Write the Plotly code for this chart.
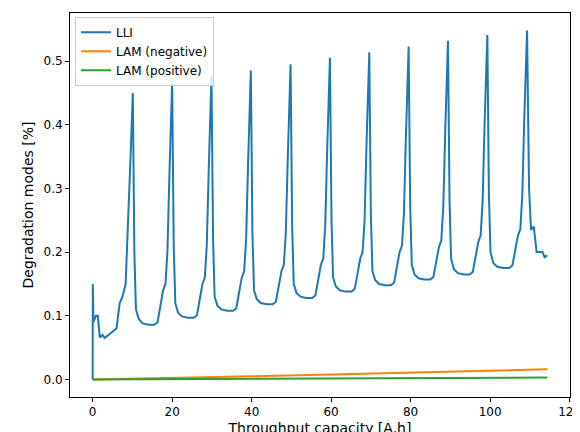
"""Degradation modes vs throughput capacity"""
import plotly.graph_objects as go

# start of LLI curve (first partial cycle)
start_x = [0, 0.05, 0.2, 0.8, 1.3, 1.8, 2.5, 3.0, 4.0, 5.0, 6.0, 6.8, 7.5, 8.3, 9.0, 9.6]
start_y = [0, 0.15, 0.09, 0.10, 0.10, 0.066, 0.07, 0.065, 0.07, 0.075, 0.08, 0.12, 0.13, 0.15, 0.25, 0.36]

# peak positions and peak values
peak_x = [10.1, 20.0, 29.9, 39.8, 49.8, 59.7, 69.6, 79.5, 89.4, 99.3, 109.3]
peak_y = [0.450, 0.466, 0.476, 0.485, 0.495, 0.505, 0.514, 0.523, 0.532, 0.541, 0.548]

# shape between peaks: offset after peak (fraction of gap) and values per cycle
offsets = [0.04, 0.08, 0.15, 0.25, 0.40, 0.55, 0.63, 0.70, 0.77, 0.83, 0.88, 0.93, 0.97]
cycles_y = [
    [0.20, 0.11, 0.095, 0.088, 0.086, 0.086, 0.090, 0.115, 0.140, 0.150, 0.20, 0.32],
    [0.21, 0.12, 0.105, 0.099, 0.097, 0.097, 0.101, 0.125, 0.150, 0.160, 0.21, 0.33],
    [0.22, 0.13, 0.116, 0.110, 0.108, 0.108, 0.112, 0.135, 0.160, 0.170, 0.22, 0.34],
    [0.23, 0.14, 0.126, 0.120, 0.118, 0.118, 0.122, 0.145, 0.170, 0.180, 0.23, 0.35],
    [0.24, 0.15, 0.136, 0.130, 0.128, 0.128, 0.132, 0.155, 0.180, 0.190, 0.24, 0.36],
    [0.25, 0.16, 0.146, 0.140, 0.138, 0.138, 0.142, 0.165, 0.190, 0.200, 0.25, 0.37],
    [0.26, 0.17, 0.156, 0.150, 0.148, 0.148, 0.152, 0.175, 0.200, 0.210, 0.26, 0.38],
    [0.27, 0.18, 0.165, 0.159, 0.157, 0.157, 0.161, 0.184, 0.208, 0.218, 0.27, 0.39],
    [0.28, 0.19, 0.173, 0.167, 0.165, 0.165, 0.169, 0.192, 0.216, 0.226, 0.28, 0.40],
    [0.29, 0.20, 0.183, 0.177, 0.175, 0.175, 0.179, 0.202, 0.226, 0.236, 0.29, 0.41],
]
end_x = [109.8, 110.3, 111.0, 111.7, 112.5, 113.2, 113.7, 114.4]
end_y = [0.30, 0.235, 0.24, 0.20, 0.20, 0.20, 0.192, 0.195]

lam_x = [0, 20, 40, 60, 80, 100, 114.4]
lam_neg = [0.0, 0.002, 0.005, 0.008, 0.011, 0.014, 0.016]
lam_pos = [0.0, 0.0006, 0.0011, 0.0016, 0.0021, 0.0026, 0.003]

lli_x = list(start_x)
lli_y = list(start_y)
for i, ys in enumerate(cycles_y):
    lli_x.append(peak_x[i]); lli_y.append(peak_y[i])
    gap = peak_x[i + 1] - peak_x[i]
    for off, y in zip(offsets, ys):
        lli_x.append(peak_x[i] + off * gap); lli_y.append(y)
lli_x.append(peak_x[-1]); lli_y.append(peak_y[-1])
lli_x += end_x; lli_y += end_y

fig = go.Figure()
fig.add_trace(go.Scatter(x=lli_x, y=lli_y, mode="lines", name="LLI", line=dict(color="#1f77b4", width=2)))
fig.add_trace(go.Scatter(x=lam_x, y=lam_neg, mode="lines", name="LAM (negative)", line=dict(color="#ff7f0e", width=2)))
fig.add_trace(go.Scatter(x=lam_x, y=lam_pos, mode="lines", name="LAM (positive)", line=dict(color="#2ca02c", width=2)))

axis = dict(showgrid=False, zeroline=False, showline=True, mirror=True, linecolor="black",
            ticks="outside", ticklen=4, tickcolor="black", automargin=False)
fig.update_layout(
    width=580, height=432, margin=dict(l=62, r=18, t=5, b=43),
    paper_bgcolor="white", plot_bgcolor="white",
    font=dict(family="DejaVu Sans", size=12, color="black"),
    xaxis=dict(axis, range=[-5.7, 120.1], tickvals=[0, 20, 40, 60, 80, 100, 120],
               title=dict(text="Throughput capacity [A.h]", standoff=4)),
    yaxis=dict(axis, range=[-0.0275, 0.5755], tickvals=[0, 0.1, 0.2, 0.3, 0.4, 0.5],
               tickformat=".1f", title=dict(text="Degradation modes [%]", standoff=6)),
    legend=dict(x=0.01, y=0.99, xanchor="left", yanchor="top", bordercolor="#cccccc",
                borderwidth=1, bgcolor="rgba(255,255,255,0.8)"),
    showlegend=True,
)
fig.write_html("out.html")
